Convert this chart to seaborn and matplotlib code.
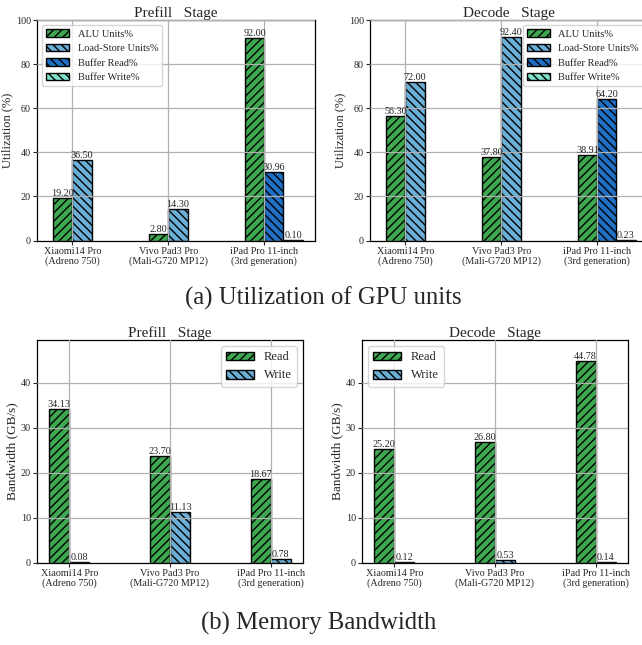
import numpy as np
import pandas as pd
import matplotlib
matplotlib.use("Agg")
import matplotlib.pyplot as plt
import seaborn as sns
from matplotlib.patches import Patch
from matplotlib.colors import to_hex

# ---------------- data ----------------
devices = ["Xiaomi14 Pro\n(Adreno 750)",
           "Vivo Pad3 Pro\n(Mali-G720 MP12)",
           "iPad Pro 11-inch\n(3rd generation)"]

util_metrics = ["ALU Units%", "Load-Store Units%", "Buffer Read%", "Buffer Write%"]
prefill_alu = [19.20, 2.80, 92.00]
prefill_ls = [36.50, 14.30, np.nan]
prefill_buf_read = [np.nan, np.nan, 30.96]
prefill_buf_write = [np.nan, np.nan, 0.10]
decode_alu = [56.30, 37.80, 38.91]
decode_ls = [72.00, 92.40, np.nan]
decode_buf_read = [np.nan, np.nan, 64.20]
decode_buf_write = [np.nan, np.nan, 0.23]

bw_metrics = ["Read", "Write"]
prefill_read = [34.13, 23.70, 18.67]
prefill_write = [0.08, 11.13, 0.78]
decode_read = [25.20, 26.80, 44.78]
decode_write = [0.12, 0.53, 0.14]

util_yticks = [0, 20, 40, 60, 80, 100]
bw_yticks = [0, 10, 20, 30, 40]

# ---------------- style ----------------
sns.set_style("ticks")
plt.rcParams["font.family"] = ["Liberation Serif", "DejaVu Serif"]
plt.rcParams["hatch.linewidth"] = 1.0

util_colors = ["#3da84f", "#6baed6", "#1f6fc4", "#7fe0cc"]
util_hatches = ["////", "\\\\\\\\", "\\\\\\\\", "\\\\\\\\"]
bw_colors = ["#3da84f", "#6baed6"]
bw_hatches = ["////", "\\\\\\\\"]
BAR_W = 0.2
TICK_FS = 7.3


def draw(ax, series, metrics, colors, hatches, title, ylabel, ylim, yticks,
         legend_loc, legend_fs, label_fs, xlim):
    rows = []
    for i in range(len(devices)):
        slot = 0
        for m, vals in zip(metrics, series):
            v = vals[i]
            if np.isnan(v):
                continue
            rows.append(dict(pos=i + (slot - 0.5) * BAR_W, value=v, metric=m))
            slot += 1
    df = pd.DataFrame(rows)
    sns.barplot(data=df, x="pos", y="value", hue="metric", hue_order=metrics,
                palette=colors, native_scale=True, dodge=False, width=1.0,
                errorbar=None, edgecolor="black", linewidth=1.0, legend=False,
                saturation=1.0, ax=ax)
    hmap = {to_hex(c): h for c, h in zip(colors, hatches)}
    for p in ax.patches:
        h = hmap.get(to_hex(p.get_facecolor()))
        if h:
            p.set_hatch(h)
    for c in ax.containers:
        ax.bar_label(c, fmt="%.2f", fontsize=TICK_FS, padding=0)
    ax.set_xticks(range(len(devices)))
    ax.set_xticklabels(devices, fontsize=TICK_FS, linespacing=1.1)
    ax.set_xlabel("")
    ax.set_xlim(*xlim)
    ax.set_ylim(*ylim)
    ax.set_yticks(yticks)
    ax.set_yticklabels([str(t) for t in yticks], fontsize=TICK_FS)
    ax.set_ylabel(ylabel, fontsize=label_fs, labelpad=2)
    ax.set_title(title, fontsize=11, pad=2)
    ax.grid(True, color="#b0b0b0", linewidth=0.9)
    ax.set_axisbelow(False)
    for s in ax.spines.values():
        s.set_visible(True)
        s.set_color("black")
        s.set_linewidth(0.9)
    ax.tick_params(axis="both", length=3, width=0.8, pad=1.5)
    handles = [Patch(facecolor=c, edgecolor="black", hatch=h, label=m)
               for c, h, m in zip(colors, hatches, metrics)]
    ax.legend(handles=handles, loc=legend_loc, fontsize=legend_fs,
              handlelength=2.2, borderaxespad=0.5)


fig = plt.figure(figsize=(6.42, 6.45), dpi=100)
W, H = 642, 645


def axes_px(x0, y0, x1, y1):
    return fig.add_axes([x0 / W, 1 - y1 / H, (x1 - x0) / W, (y1 - y0) / H])


ax1 = axes_px(37, 20, 315, 240.5)
ax2 = axes_px(370, 20, 648, 240.5)
ax3 = axes_px(37, 340, 303, 562.5)
ax4 = axes_px(362, 340, 628, 562.5)

draw(ax1, [prefill_alu, prefill_ls, prefill_buf_read, prefill_buf_write],
     util_metrics, util_colors, util_hatches, "Prefill   Stage",
     "Utilization (%)", (0, 100), util_yticks, "upper left", 7.5, 9,
     (-0.37, 2.53))
draw(ax2, [decode_alu, decode_ls, decode_buf_read, decode_buf_write],
     util_metrics, util_colors, util_hatches, "Decode   Stage",
     "Utilization (%)", (0, 100), util_yticks, "upper right", 7.5, 9,
     (-0.37, 2.53))
draw(ax3, [prefill_read, prefill_write], bw_metrics, bw_colors, bw_hatches,
     "Prefill   Stage", "Bandwidth (GB/s)", (0, 49.5), bw_yticks,
     "upper right", 9, 9.5, (-0.32, 2.32))
draw(ax4, [decode_read, decode_write], bw_metrics, bw_colors, bw_hatches,
     "Decode   Stage", "Bandwidth (GB/s)", (0, 49.5), bw_yticks,
     "upper left", 9, 9.5, (-0.32, 2.32))

fig.text(0.503, 1 - 298 / H, "(a) Utilization of GPU units", fontsize=17.8,
         ha="center", va="center")
fig.text(0.497, 1 - 623 / H, "(b) Memory Bandwidth", fontsize=17.8,
         ha="center", va="center")

fig.savefig("out.png", dpi=100)
